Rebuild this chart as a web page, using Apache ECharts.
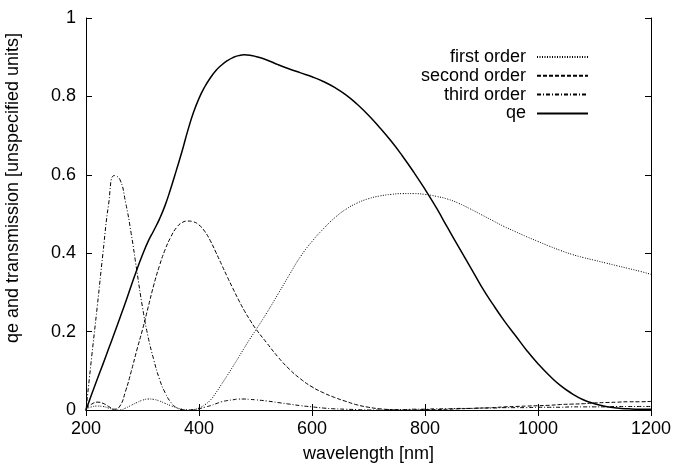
<!DOCTYPE html>
<html>
<head>
<meta charset="utf-8">
<script src="https://cdn.jsdelivr.net/npm/echarts@6/dist/echarts.min.js"></script>
<style>
  html, body { margin: 0; padding: 0; background: #fff; }
  #chart { width: 677px; height: 468px; }
</style>
</head>
<body>
<div id="chart"></div>
<script>
// Wavelength sampling grid [nm]: 10 nm steps up to 500, 20 nm steps after
const wavelength = [
  200, 210, 220, 230, 240, 250, 260, 270, 280, 290,
  300, 310, 320, 330, 340, 350, 360, 370, 380, 390,
  400, 410, 420, 430, 440, 450, 460, 470, 480, 490,
  500, 520, 540, 560, 580, 600, 620, 640, 660, 680,
  700, 720, 740, 760, 780, 800, 820, 840, 860, 880,
  900, 920, 940, 960, 980, 1000, 1020, 1040, 1060, 1080,
  1100, 1120, 1140, 1160, 1180, 1200
];

// Grating transmission, first order
const firstOrder = [
  0.003, 0.008, 0.010, 0.009, 0.005, 0.001, 0.000, 0.005, 0.012, 0.019,
  0.025, 0.028, 0.027, 0.023, 0.017, 0.011, 0.006, 0.002, 0.000, 0.001,
  0.005, 0.013, 0.025, 0.044, 0.066, 0.088, 0.111, 0.134, 0.158, 0.181,
  0.203, 0.248, 0.296, 0.345, 0.392, 0.430, 0.462, 0.490, 0.512, 0.528,
  0.539, 0.546, 0.550, 0.552, 0.552, 0.550, 0.545, 0.538, 0.527, 0.513,
  0.498, 0.483, 0.468, 0.455, 0.442, 0.430, 0.418, 0.407, 0.397, 0.389,
  0.382, 0.375, 0.368, 0.361, 0.354, 0.346
];

// Grating transmission, second order
const secondOrder = [
  0.005, 0.015, 0.020, 0.017, 0.009, 0.002, 0.010, 0.048, 0.098, 0.153,
  0.205, 0.262, 0.319, 0.368, 0.409, 0.441, 0.465, 0.478, 0.482, 0.480,
  0.472, 0.456, 0.432, 0.402, 0.371, 0.340, 0.310, 0.281, 0.254, 0.230,
  0.208, 0.171, 0.135, 0.104, 0.079, 0.059, 0.044, 0.032, 0.022, 0.013,
  0.007, 0.003, 0.001, 0.000, 0.000, 0.001, 0.001, 0.002, 0.003, 0.004,
  0.005, 0.006, 0.008, 0.009, 0.010, 0.011, 0.012, 0.014, 0.015, 0.016,
  0.018, 0.019, 0.020, 0.021, 0.021, 0.022
];

// Grating transmission, third order
const thirdOrder = [
  0.000, 0.135, 0.265, 0.400, 0.525, 0.598, 0.588, 0.530, 0.450, 0.355,
  0.262, 0.186, 0.128, 0.079, 0.044, 0.020, 0.006, 0.001, 0.000, 0.001,
  0.003, 0.007, 0.011, 0.016, 0.021, 0.024, 0.026, 0.028, 0.028, 0.027,
  0.026, 0.023, 0.019, 0.015, 0.011, 0.008, 0.005, 0.003, 0.002, 0.001,
  0.000, 0.000, 0.001, 0.001, 0.002, 0.002, 0.003, 0.003, 0.004, 0.004,
  0.005, 0.005, 0.006, 0.006, 0.006, 0.007, 0.007, 0.007, 0.008, 0.008,
  0.008, 0.008, 0.009, 0.009, 0.009, 0.009
];

// Detector quantum efficiency
const qe = [
  0.000, 0.040, 0.079, 0.117, 0.156, 0.195, 0.235, 0.275, 0.317, 0.358,
  0.396, 0.430, 0.458, 0.487, 0.522, 0.565, 0.612, 0.660, 0.712, 0.758,
  0.795, 0.824, 0.847, 0.866, 0.880, 0.891, 0.899, 0.904, 0.906, 0.905,
  0.902, 0.893, 0.881, 0.870, 0.860, 0.850, 0.838, 0.823, 0.804, 0.780,
  0.752, 0.720, 0.686, 0.648, 0.607, 0.563, 0.516, 0.465, 0.415, 0.365,
  0.315, 0.270, 0.228, 0.190, 0.152, 0.118, 0.088, 0.062, 0.042, 0.026,
  0.016, 0.009, 0.005, 0.003, 0.002, 0.002
];

const xTicks = { min: 200, max: 1200, interval: 200 };
const yTicks = { min: 0, max: 1, interval: 0.2 };

const FONT = '"Liberation Sans", Arial, Helvetica, sans-serif';

const pairs = vals => wavelength.map((w, i) => [w, vals[i]]);

const seriesDefs = [
  { name: 'first order',  data: firstOrder,  dash: [1, 1.5],     width: 1 },
  { name: 'second order', data: secondOrder, dash: [4, 2],       width: 1 },
  { name: 'third order',  data: thirdOrder,  dash: [4, 2, 1, 2], width: 1 },
  { name: 'qe',           data: qe,          dash: 'solid',      width: 1.5 }
];

const legendRows = [57, 75.8, 94.6, 113.4];

const chart = echarts.init(document.getElementById('chart'), null, { renderer: 'canvas' });

const frameAxis = (extra) => Object.assign({
  type: 'value',
  axisLine: { show: true, lineStyle: { color: '#000', width: 1 } },
  axisTick: { show: true, inside: true, length: 6, lineStyle: { color: '#000', width: 1 } },
  splitLine: { show: false },
  axisLabel: { show: false }
}, extra);

const tickLabel = {
  show: true, color: '#000', fontSize: 18, fontFamily: FONT, margin: 10,
  formatter: v => String(v)
};

chart.setOption({
  animation: false,
  backgroundColor: '#fff',
  grid: { left: 86, right: 26, top: 18, bottom: 57 },
  xAxis: [
    frameAxis(Object.assign({}, xTicks, {
      position: 'bottom',
      name: 'wavelength [nm]',
      nameLocation: 'middle',
      nameGap: 35,
      nameTextStyle: { color: '#000', fontSize: 18, fontFamily: FONT },
      axisLabel: tickLabel
    })),
    frameAxis(Object.assign({}, xTicks, { position: 'top' }))
  ],
  yAxis: [
    frameAxis(Object.assign({}, yTicks, { position: 'left', axisLabel: tickLabel })),
    frameAxis(Object.assign({}, yTicks, { position: 'right' }))
  ],
  legend: seriesDefs.map((s, i) => ({
    data: [s.name],
    orient: 'vertical',
    align: 'right',
    right: 88,
    top: legendRows[i] - 9,
    padding: 0,
    itemWidth: 51,
    itemHeight: 18,
    selectedMode: false,
    itemStyle: { opacity: 0 },
    lineStyle: { opacity: 1 },
    textStyle: { color: '#000', fontSize: 18, fontFamily: FONT, padding: [0, 6, 0, 0] }
  })),
  graphic: [{
    type: 'text',
    x: 13,
    y: 188,
    rotation: Math.PI / 2,
    style: {
      text: 'qe and transmission [unspecified units]',
      fill: '#000',
      font: '18px ' + FONT,
      align: 'center',
      verticalAlign: 'middle'
    }
  }],
  series: seriesDefs.map(s => ({
    name: s.name,
    type: 'line',
    xAxisIndex: 0,
    yAxisIndex: 0,
    data: pairs(s.data),
    smooth: 0.5,
    symbol: 'none',
    showSymbol: false,
    clip: true,
    color: '#000',
    lineStyle: { color: '#000', width: s.width, type: s.dash }
  }))
});
</script>
</body>
</html>
